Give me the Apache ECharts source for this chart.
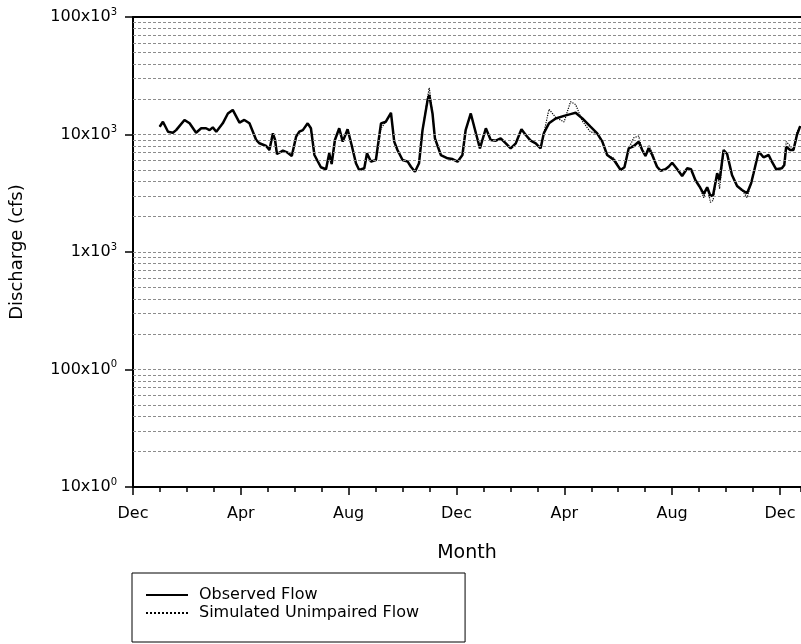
<!DOCTYPE html>
<html>
<head>
<meta charset="utf-8">
<script src="https://cdn.jsdelivr.net/npm/echarts@6/dist/echarts.min.js"></script>
<style>html,body{margin:0;padding:0;background:#fff}#c{width:801px;height:644px}</style>
</head>
<body>
<div id="c"></div>
<script>
// months since 1 Dec of the first year
const months = [
0.99,1.11,1.30,1.48,1.60,1.91,2.10,2.34,2.53,2.71,
2.84,2.96,3.09,3.33,3.52,3.70,3.95,4.13,4.32,4.57,
4.69,4.94,5.06,5.19,5.27,5.34,5.56,5.74,5.89,6.05,
6.17,6.30,6.48,6.60,6.73,6.97,7.16,7.28,7.37,7.49,
7.65,7.78,7.96,8.11,8.27,8.39,8.58,8.68,8.83,9.01,
9.20,9.38,9.57,9.69,9.81,10.00,10.19,10.31,10.46,10.61,
10.74,10.93,10.99,11.11,11.20,11.42,11.67,11.85,12.04,12.22,
12.34,12.53,12.72,12.87,13.09,13.27,13.46,13.64,13.83,14.01,
14.20,14.41,14.57,14.75,14.94,15.12,15.24,15.43,15.68,15.99,
16.23,16.42,16.67,16.97,17.22,17.41,17.59,17.84,18.09,18.23,
18.39,18.58,18.76,18.89,19.01,19.13,19.26,19.44,19.57,19.75,
19.87,20.00,20.19,20.37,20.56,20.70,20.86,21.02,21.17,21.30,
21.42,21.52,21.67,21.76,21.91,22.04,22.22,22.41,22.59,22.78,
22.93,23.02,23.21,23.39,23.58,23.70,23.86,24.07,24.16,24.23,
24.38,24.50,24.63,24.75
];
const observedFlow = [
11650,12850,10560,10360,10900,13300,12450,10360,11300,11300,
10900,11500,10560,12450,15100,16200,12600,13300,12450,8980,
8420,7980,7380,10240,8980,6825,7280,7000,6560,9580,
10560,10900,12450,11300,6690,5260,5060,6920,5610,8980,
11300,8690,11070,8140,5690,4990,5160,6920,5870,6070,
12450,12850,15300,8690,7380,6070,5870,5320,4820,5690,
10900,19700,21700,15100,9280,6690,6270,6185,5870,6690,
10900,15100,10240,7630,11300,8980,8860,9280,8420,7630,
8420,11070,9900,8860,8420,7630,10240,12450,13700,14400,
14900,15300,13700,11650,10240,8690,6690,6070,4990,5260,
7630,7980,8690,7380,6560,7630,6690,5320,4920,5060,
5320,5750,5060,4430,5160,5060,4100,3595,3115,3555,
2995,3055,4680,4100,7380,6825,4520,3645,3370,3160,
3845,4680,7140,6400,6690,5870,5060,5160,5500,7870,
7380,7380,9900,11800
];
const simulatedFlow = [
11650,12850,10560,10360,10900,13300,12450,10360,11300,11300,
10900,11500,10560,12450,15100,16200,12600,13300,12450,8980,
8420,7980,7380,10240,8980,6825,7280,7000,6560,9580,
10560,10900,12450,11300,6690,5260,5060,6920,5610,8980,
11300,8690,11070,8140,5690,4990,5160,6920,5870,6070,
11300,12850,15300,8690,7380,6070,5870,5320,4820,5690,
10900,21000,25000,15100,9280,6690,6270,6185,5870,6690,
10900,15100,10240,7630,11300,8980,8860,9280,8420,7630,
8420,11070,9900,8860,8420,7630,10240,16400,14000,12800,
19000,18000,13000,10500,10240,8690,6690,6300,4990,5260,
7630,9400,9700,7380,6560,8100,7000,5320,4920,5060,
5320,5750,5060,4430,5160,5060,4100,3595,2900,3555,
2650,2750,4680,3450,7380,6825,4520,3645,3370,2900,
3845,4680,7140,6400,6690,5870,5060,5160,5500,8700,
8000,7380,10500,11800
];
const xTickLabels = ['Dec','Apr','Aug','Dec','Apr','Aug','Dec'];
const yTickBases = ['10x10','100x10','1x10','10x10','100x10'];
const yTickExps = ['0','0','3','3','3'];
const seriesNames = ['Observed Flow','Simulated Unimpaired Flow'];

const FONT = 'DejaVu Sans';
const gridValues = [];
[10,100,1000,10000].forEach(d => { for (let k = 1; k <= 9; k++) { const v = d * k; if (v > 10) gridValues.push(v); } });

const chart = echarts.init(document.getElementById('c'), null, {renderer: 'canvas'});
const xMax = 24.78;
const option = {
  animation: false,
  backgroundColor: '#fff',
  textStyle: {fontFamily: FONT, color: '#000'},
  grid: {left: 133, right: 0, top: 17, bottom: 157, containLabel: false},
  legend: {
    orient: 'vertical', left: 132, top: 573,
    data: seriesNames,
    borderColor: '#000', borderWidth: 1,
    padding: [14, 46, 21, 13],
    itemGap: 2, itemWidth: 42, itemHeight: 14,
    itemStyle: {opacity: 0},
    textStyle: {fontFamily: FONT, fontSize: 16, color: '#000', lineHeight: 16, padding: [0, 0, 0, 6]}
  },
  xAxis: [
    {
      type: 'value', position: 'bottom', min: 0, max: xMax, interval: 4,
      name: 'Month', nameLocation: 'middle', nameGap: 57,
      nameTextStyle: {fontFamily: FONT, fontSize: 19, color: '#000'},
      axisLine: {onZero: false, lineStyle: {color: '#000', width: 2}},
      axisTick: {show: true, length: 8, lineStyle: {color: '#000', width: 1.5}},
      axisLabel: {
        margin: 19, fontFamily: FONT, fontSize: 16, color: '#000', showMaxLabel: false,
        formatter: v => { const i = Math.round(v / 4); return Math.abs(v - i * 4) < 1e-6 ? (xTickLabels[i] || '') : ''; }
      },
      splitLine: {show: false}
    },
    {
      type: 'value', position: 'bottom', min: 0, max: xMax, interval: 1,
      axisLine: {show: false, onZero: false},
      axisTick: {show: true, length: 5, lineStyle: {color: '#000', width: 1.5}},
      axisLabel: {show: false},
      splitLine: {show: false}
    },
    {
      type: 'value', position: 'top', min: 0, max: xMax,
      axisLine: {show: true, onZero: false, lineStyle: {color: '#000', width: 2}},
      axisTick: {show: false}, axisLabel: {show: false}, splitLine: {show: false}
    }
  ],
  yAxis: {
    type: 'log', logBase: 10, min: 10, max: 100000, interval: 1,
    name: 'Discharge (cfs)', nameLocation: 'middle', nameGap: 107, nameRotate: 90,
    nameTextStyle: {fontFamily: FONT, fontSize: 18, color: '#000'},
    axisLine: {show: true, lineStyle: {color: '#000', width: 2}},
    axisTick: {show: true, length: 8, lineStyle: {color: '#000', width: 1.5}},
    axisLabel: {
      margin: 16,
      formatter: v => { const i = Math.round(Math.log10(v)) - 1; return '{b|' + yTickBases[i] + '}{e|' + yTickExps[i] + '}'; },
      rich: {
        b: {fontFamily: FONT, fontSize: 16, color: '#000', lineHeight: 20},
        e: {fontFamily: FONT, fontSize: 10, color: '#000', verticalAlign: 'top', lineHeight: 12}
      }
    },
    splitLine: {show: false}
  },
  series: [
    {
      name: 'gridlines', type: 'line', data: [], z: 1, silent: true,
      markLine: {
        silent: true, symbol: ['none', 'none'], animation: false,
        label: {show: false},
        lineStyle: {color: '#8c8c8c', type: [3, 2], width: 1},
        data: gridValues.map(v => ({yAxis: v}))
      }
    },
    {
      name: seriesNames[0], type: 'line', z: 4, symbol: 'none', showSymbol: false,
      data: months.map((m, i) => [m, observedFlow[i]]),
      lineStyle: {color: '#000', width: 2.5, type: 'solid'},
      itemStyle: {color: '#000'}
    },
    {
      name: seriesNames[1], type: 'line', z: 3, symbol: 'none', showSymbol: false,
      data: months.map((m, i) => [m, simulatedFlow[i]]),
      lineStyle: {color: '#000', width: 1.2, type: 'dotted'},
      itemStyle: {color: '#000'}
    }
  ]
};
chart.setOption(option);
</script>
</body>
</html>
